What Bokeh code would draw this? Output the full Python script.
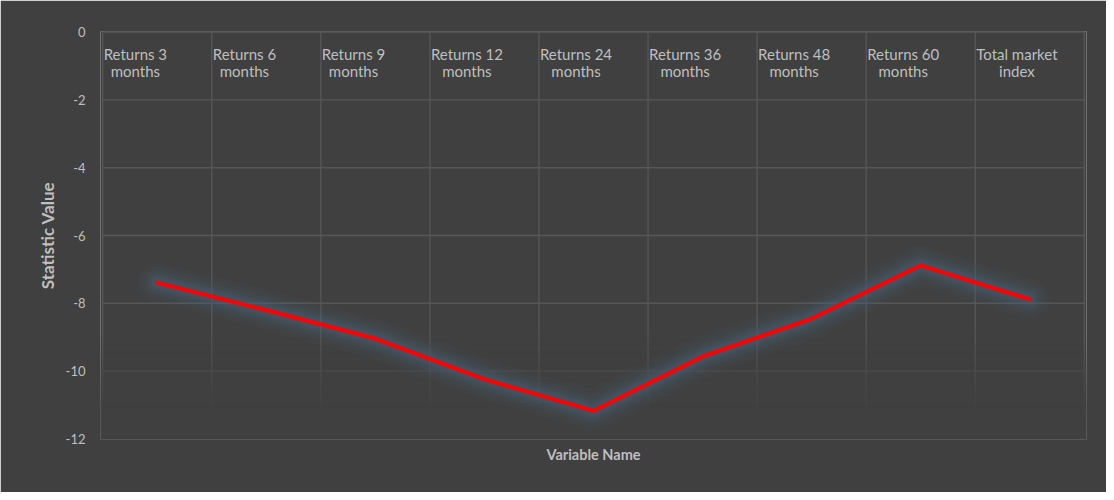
from bokeh.plotting import figure
from bokeh.models import FactorRange, Range1d, FixedTicker, ColumnDataSource, PrintfTickFormatter
from bokeh.transform import dodge
from bokeh.core.properties import value
from bokeh.embed import file_html
from bokeh.resources import INLINE

# ---- data ----
categories = ["Returns 3 months", "Returns 6 months", "Returns 9 months",
              "Returns 12 months", "Returns 24 months", "Returns 36 months",
              "Returns 48 months", "Returns 60 months", "Total market index"]
label_line1 = ["Returns 3", "Returns 6", "Returns 9", "Returns 12", "Returns 24",
               "Returns 36", "Returns 48", "Returns 60", "Total market"]
label_line2 = ["months", "months", "months", "months", "months",
               "months", "months", "months", "index"]
values = [-7.39, -8.20, -9.04, -10.24, -11.17, -9.57, -8.45, -6.88, -7.88]
y_ticks = [0, -2, -4, -6, -8, -10, -12]

BG = "#404040"
GRID = "#575757"
TXT = "#bfbfbf"
FONT = "Lato"

p = figure(width=1106, height=492,
           x_range=FactorRange(*categories, range_padding=0.02, range_padding_units="absolute"),
           y_range=Range1d(-12.02, 0.02), output_backend="svg", toolbar_location=None,
           min_border_left=100, min_border_right=20, min_border_top=31,
           min_border_bottom=53, outline_line_color=None, outline_line_width=0)
p.background_fill_color = BG
p.border_fill_color = BG
p.xgrid.visible = False
p.ygrid.visible = False

# y axis
p.yaxis.ticker = FixedTicker(ticks=y_ticks)
p.yaxis.formatter = PrintfTickFormatter(format="%d")
p.yaxis.axis_line_color = None
p.yaxis.major_tick_line_color = None
p.yaxis.minor_tick_line_color = None
p.yaxis.major_label_text_color = TXT
p.yaxis.major_label_text_font = FONT
p.yaxis.major_label_text_font_size = "13px"
p.yaxis.major_label_standoff = 9
p.yaxis.axis_label = "Statistic Value"
p.yaxis.axis_label_text_font = FONT
p.yaxis.axis_label_text_font_style = "bold"
p.yaxis.axis_label_text_font_size = "17px"
p.yaxis.axis_label_text_color = TXT
p.yaxis.axis_label_standoff = 5

# x axis: no ticks (category labels are drawn inside the plot), only its title
p.xaxis.ticker = FixedTicker(ticks=[])
p.xaxis.axis_line_color = None
p.xaxis.major_tick_line_color = None
p.xaxis.minor_tick_line_color = None
p.xaxis.major_label_standoff = 0
p.xaxis.axis_label = "Variable Name"
p.xaxis.axis_label_text_font = FONT
p.xaxis.axis_label_text_font_style = "bold"
p.xaxis.axis_label_text_font_size = "14.5px"
p.xaxis.axis_label_text_color = TXT
p.xaxis.axis_label_standoff = 6

n_cat = len(categories)
h_grid = y_ticks[:-1]
v_grid = list(range(n_cat + 1))

# first stroked renderer in background colour (absorbs the frame-clip stroke of the svg backend)
p.segment(x0=[0], x1=[n_cat], y0=[y_ticks[0]], y1=[y_ticks[0]],
          line_color=BG, line_width=2)

# grid lines
p.segment(x0=[0] * len(h_grid), x1=[n_cat] * len(h_grid), y0=h_grid, y1=h_grid,
          line_color=GRID, line_width=1.3)
p.segment(x0=v_grid, x1=v_grid, y0=[y_ticks[0]] * len(v_grid), y1=[y_ticks[-1]] * len(v_grid),
          line_color=GRID, line_width=1.3)

# fading of the grid towards the bottom
n_fade = 14
top, bot = -8.9, -11.3
step = (top - bot) / n_fade
for k in range(n_fade):
    p.quad(left=-0.2, right=n_cat + 0.2, top=top - k * step,
           bottom=top - (k + 1) * step,
           fill_color=BG, fill_alpha=(k + 1) / n_fade, line_color=None)
p.quad(left=-0.2, right=n_cat + 0.2, top=bot, bottom=-12.3,
       fill_color=BG, fill_alpha=1, line_color=None)

src = ColumnDataSource(dict(cat=categories, val=values,
                            lab=[a + "\n" + b for a, b in zip(label_line1, label_line2)]))

# glow
for w, a in [(40, 0.06), (32, 0.1), (24, 0.14), (17, 0.2), (11, 0.25)]:
    p.line("cat", "val", source=src, line_color="#4a6078", line_width=w, line_alpha=a,
           line_join="round", line_cap="round")
# main line
p.line("cat", "val", source=src, line_color="#ff0000", line_width=4,
       line_join="round", line_cap="round")

# category labels
p.text(x=dodge("cat", -0.5, range=p.x_range), y=0, text="lab", source=src,
       text_font=value(FONT), text_font_size="15px", text_color=TXT,
       text_align="center", anchor="top_left", text_line_height=0.95,
       x_offset=1, y_offset=13)

open("out.html", "w").write(file_html(p, INLINE))
